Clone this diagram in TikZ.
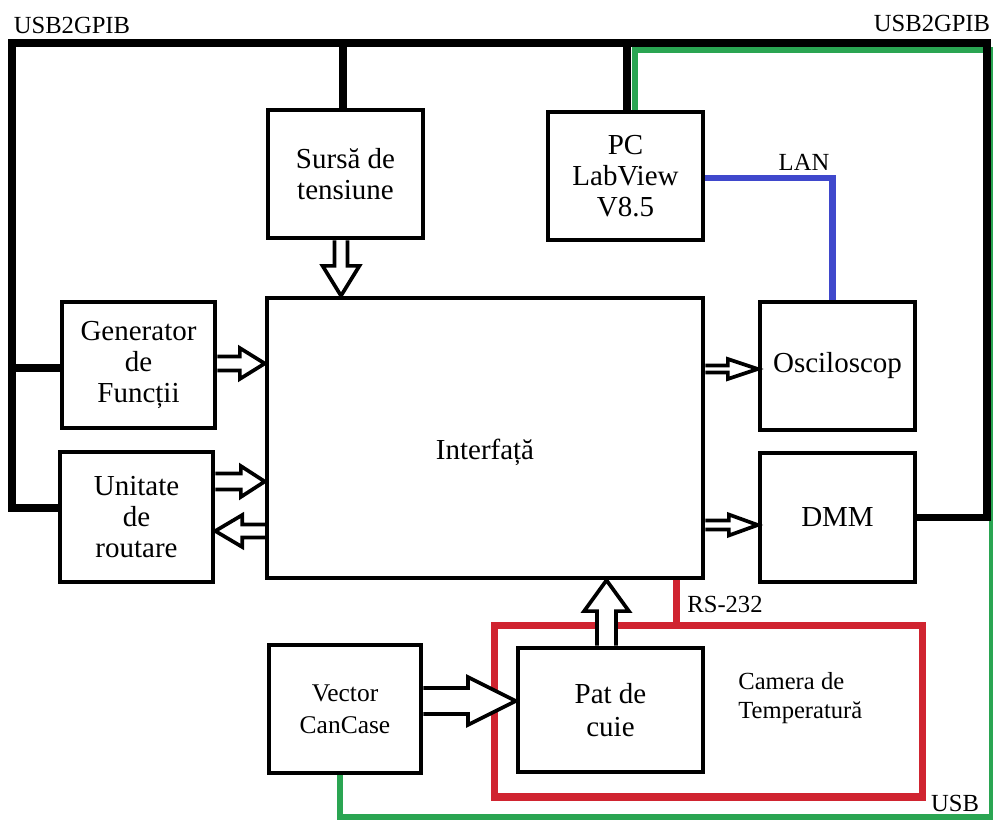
\documentclass[tikz,border=0pt]{standalone}
\usepackage{fontspec}
\setmainfont{Liberation Serif}
\usetikzlibrary{calc}
\pgfdeclarelayer{bg}
\pgfsetlayers{bg,main}
\definecolor{busgreen}{HTML}{2AA552}
\definecolor{lanblue}{HTML}{3F48CC}
\definecolor{camred}{HTML}{D02430}
\tikzset{
  devbox/.style={draw=black, line width=2.6pt, rectangle, align=center, inner sep=0pt,
    font=\fontsize{16.5}{17.5}\selectfont},
  smalldev/.style={devbox, font=\fontsize{14.5}{18}\selectfont},
  lbl/.style={inner sep=0pt, font=\fontsize{14}{16}\selectfont},
  bus/.style={line width=4.4pt, line join=miter, black},
  gline/.style={line width=3.6pt, line join=miter, busgreen},
  bline/.style={line width=3.6pt, line join=miter, lanblue},
  rline/.style={line width=4pt, camred},
  harr/.style={draw=black, fill=white, line width=2.1pt, line join=miter},
}
% hollow arrow: from, to, shaft width, head width, head length (pixels)
\newcommand{\hollowarrow}[5]{%
  \pgfmathsetmacro\hsw{#3*0.2835}%
  \pgfmathsetmacro\hhw{#4*0.2835}%
  \pgfmathsetmacro\hlen{#5*0.567}%
  \path ($(#2)!\hlen pt!(#1)$) coordinate (hb);
  \draw[harr] ($(#1)!\hsw pt!90:(#2)$) -- ($(hb)!\hsw pt!90:(#2)$) -- ($(hb)!\hhw pt!90:(#2)$)
    -- (#2) -- ($(hb)!\hhw pt!-90:(#2)$) -- ($(hb)!\hsw pt!-90:(#2)$) -- ($(#1)!\hsw pt!-90:(#2)$);
}
\begin{document}
\begin{tikzpicture}[x=0.02cm,y=-0.02cm]
\useasboundingbox (0,0) rectangle (993,820);

% boxes
\node[devbox, minimum width=3.1cm, minimum height=2.56cm] (sursa) at (345.5,174) {Sursă de\\tensiune};
\node[devbox, minimum width=3.1cm, minimum height=2.56cm] (pc) at (625.5,176) {PC\\LabView\\V8.5};
\node[devbox, minimum width=3.06cm, minimum height=2.52cm] (gen) at (138.5,365) {Generator\\de\\Funcții};
\node[devbox, minimum width=3.06cm, minimum height=2.6cm] (ru) at (136.5,517) {Unitate\\de\\routare};
\node[devbox, minimum width=8.72cm, minimum height=5.6cm] (if) at (485,438) {\raisebox{-12.5pt}[0pt][0pt]{Interfață}};
\node[devbox, minimum width=3.1cm, minimum height=2.56cm] (osc) at (837.5,366) {Osciloscop};
\node[devbox, minimum width=3.1cm, minimum height=2.58cm] (dmm) at (837.5,517.5) {DMM};
\node[smalldev, minimum width=3.04cm, minimum height=2.56cm] (vec) at (345,709) {Vector\\CanCase};
\node[devbox, minimum width=3.7cm, minimum height=2.48cm, font=\fontsize{16.5}{19}\selectfont] (pat) at (610.5,710) {Pat de\\cuie};

% labels
\node[lbl] (u1) at (72,25) {USB2GPIB};
\node[lbl] (u2) at (932,23) {USB2GPIB};
\node[lbl] (lan) at (804,162) {LAN};
\node[lbl] (rs232) at (725,604) {RS-232};
\node[lbl] (usb) at (955,803) {USB};
\node[lbl, anchor=west, align=left, font=\fontsize{14}{16.5}\selectfont] (camlbl) at (738,698.5) {Camera de\\Temperatură};

% reference points of the buses
\coordinate (tl) at (12,43);
\coordinate (tr) at (987,43);
\coordinate (gtr) at (992.5,50);
\coordinate (gbr) at (992.5,817);

\begin{pgfonlayer}{bg}
  \fill[white] (0,0) rectangle (993,820);
  \node[draw=camred, line width=4pt, rectangle, minimum width=8.58cm, minimum height=3.44cm, inner sep=0pt] (cam) at (708.5,711) {};
  % green USB line
  \coordinate (vs) at ($(vec.south)+(-5,0)$);
  \draw[gline] ($(pc.north)+(9.5,0)$) |- (gtr) -- (gbr) -| (vs);
  % blue LAN line
  \coordinate (ps) at ($(pc.east)+(0,2)$);
  \coordinate (os) at ($(osc.north)+(-5,0)$);
  \draw[bline] (ps) -| (os);
  % black USB2GPIB bus
  \coordinate (rub) at ($(ru.west)+(0,-9)$);
  \draw[bus] (rub) -| (tl) -- (tr) |- (dmm.east);
  \coordinate (gb) at ($(gen.west)+(0,3)$);
  \draw[bus] (gb) -- (gb -| tl);
  \coordinate (sb) at ($(sursa.north)+(-2.5,0)$);
  \draw[bus] (sb) -- (sb |- tl);
  \coordinate (pb) at ($(pc.north)+(1.5,0)$);
  \draw[bus] (pb) -- (pb |- tl);
  % RS-232 red line
  \coordinate (rs) at ($(if.south east)+(-29,0)$);
  \draw[rline] (rs) -- (rs |- cam.north);
  % hollow arrows
  \coordinate (a1s) at ($(gen.east)+(0,-1.5)$);
  \coordinate (a1e) at (a1s -| if.west);
  \hollowarrow{a1s}{a1e}{14}{31}{25}
  \coordinate (a2s) at ($(ru.east)+(0,-35.5)$);
  \coordinate (a2e) at (a2s -| if.west);
  \hollowarrow{a2s}{a2e}{16}{31}{24}
  \coordinate (a3s) at ($(ru.east)+(0,14)$);
  \coordinate (a3e) at (a3s -| if.west);
  \hollowarrow{a3e}{a3s}{13}{32}{27}
  \coordinate (a4s) at ($(osc.west)+(0,3)$);
  \coordinate (a4e) at (a4s -| if.east);
  \hollowarrow{a4e}{a4s}{7}{20}{30}
  \coordinate (a5s) at ($(dmm.west)+(0,7.5)$);
  \coordinate (a5e) at (a5s -| if.east);
  \hollowarrow{a5e}{a5s}{9}{21}{29}
  \coordinate (a6s) at ($(sursa.south)+(-4.5,0)$);
  \coordinate (a6e) at (a6s |- if.north);
  \hollowarrow{a6s}{a6e}{13}{37}{30}
  \coordinate (a7s) at ($(pat.north)+(-4,0)$);
  \coordinate (a7e) at (a7s |- if.south);
  \hollowarrow{a7s}{a7e}{19}{45}{31}
  \coordinate (a8s) at ($(vec.east)+(0,-8)$);
  \coordinate (a8e) at (a8s -| pat.west);
  \hollowarrow{a8s}{a8e}{26}{48}{48}
\end{pgfonlayer}
\end{tikzpicture}
\end{document}
